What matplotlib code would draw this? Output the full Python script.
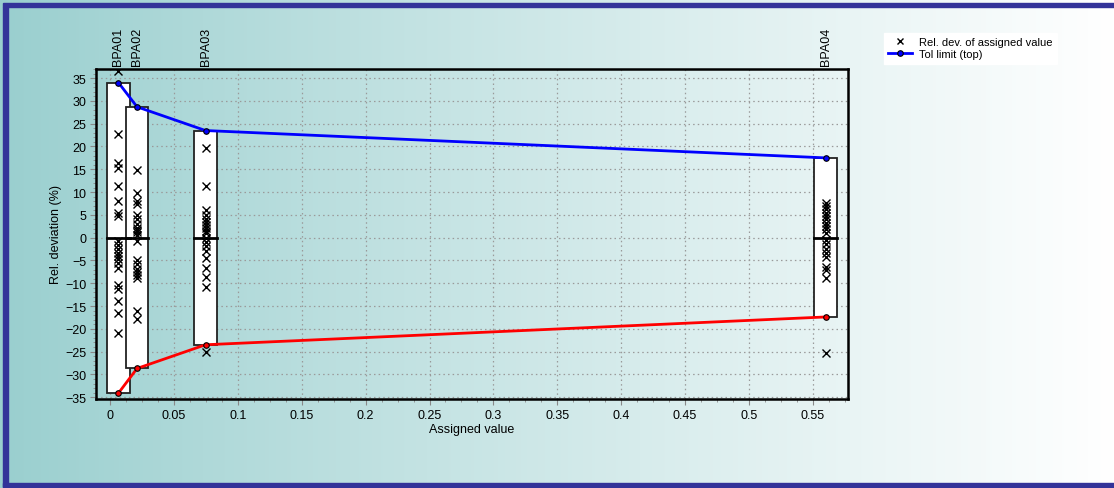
import matplotlib.pyplot as plt
import matplotlib.patches as patches
import numpy as np
from matplotlib.ticker import MultipleLocator

plt.rcParams['font.family'] = ['Liberation Sans', 'DejaVu Sans']

# 样品名称、指定值与容许限
samples = ["BPA01", "BPA02", "BPA03", "BPA04"]
assigned = [0.0066, 0.0211, 0.0747, 0.560]
tol_top = [34.0, 28.7, 23.5, 17.5]
tol_bottom = [-34.1, -28.7, -23.5, -17.4]

# 各实验室相对偏差 (%)
dev_bpa01 = [36.6, 22.8, 16.3, 15.2, 11.3, 8.1, 5.4, 4.8,
             -0.7, -1.6, -2.5, -3.4, -4.1, -4.7, -5.6, -6.7,
             -10.4, -11.3, -13.8, -16.6, -20.9]
dev_bpa02 = [14.9, 9.8, 8.0, 7.4, 5.0, 4.0, 3.0, 2.2, 1.7, 1.2, 0.6,
             -0.8, -4.9, -5.8, -6.9, -7.6, -8.3, -8.8, -16.1, -17.9]
dev_bpa03 = [19.6, 11.3, 6.1, 5.0, 4.1, 3.4, 2.8, 2.1, 1.5, 1.0,
             -0.1, -1.0, -1.9, -3.0, -4.4, -6.7, -8.6, -10.8, -25.1]
dev_bpa04 = [7.6, 7.0, 6.2, 5.5, 4.8, 4.0, 3.3, 2.5, 1.8, 1.0,
             -0.6, -1.5, -2.4, -3.4, -4.2, -6.4, -7.0, -8.9, -25.3]
devs = [dev_bpa01, dev_bpa02, dev_bpa03, dev_bpa04]

W, H = 1114, 489
fig = plt.figure(figsize=(W / 100, H / 100), dpi=100)

# 背景渐变
bg = fig.add_axes([0, 0, 1, 1], zorder=-10)
grad = np.linspace(0, 1, 512) ** 0.9
c0 = np.array([0.60, 0.81, 0.81])
c1 = np.array([1.0, 1.0, 1.0])
img = c0[None, :] * (1 - grad[:, None]) + c1[None, :] * grad[:, None]
bg.imshow(img[None, :, :], aspect='auto', extent=[0, 1, 0, 1])
bg.set_xlim(0, 1)
bg.set_ylim(0, 1)
bg.axis('off')

# 深蓝色边框
border = "#333399"
fig.patches.append(patches.Rectangle((3 / W, 1 - 8 / H), 1, 4 / H, transform=fig.transFigure, color=border, zorder=5))
fig.patches.append(patches.Rectangle((3 / W, 1 / H), 5 / W, 1 - 9 / H, transform=fig.transFigure, color=border, zorder=5))
fig.patches.append(patches.Rectangle((3 / W, 1 / H), 1, 4 / H, transform=fig.transFigure, color=border, zorder=5))

ax = fig.add_axes([96 / W, 1 - 400 / H, 752 / W, 330 / H])
ax.patch.set_alpha(0)

# 容许限方框
box_w = 0.0175
ax.bar(assigned, np.array(tol_top) - np.array(tol_bottom), bottom=tol_bottom, width=box_w,
       color="white", edgecolor="#222222", linewidth=1.3, zorder=2)
for x in assigned:
    ax.plot([x - box_w / 2, x + box_w / 2], [0, 0], color="black", lw=2, zorder=3)

# 相对偏差散点
for x, d in zip(assigned, devs):
    ax.plot([x] * len(d), d, 'x', color="black", ms=6, mew=1, zorder=4)

# 容许限折线
ax.plot(assigned, tol_top, '-o', color="#0000ff", lw=2, ms=4, mfc="#0000ff", mec="black", mew=0.8, zorder=5,
        label="Tol limit (top)")
ax.plot(assigned, tol_bottom, '-o', color="#ff0000", lw=2, ms=4, mfc="#ff0000", mec="black", mew=0.8, zorder=5)

ax.set_xlim(-0.011, 0.5775)
ax.set_ylim(-35.4, 37.0)
ax.xaxis.set_minor_locator(MultipleLocator(0.0125))
ax.yaxis.set_major_locator(MultipleLocator(5))
ax.yaxis.set_minor_locator(MultipleLocator(1))
ax.set_xticks(np.arange(0, 0.551, 0.05))
ax.set_xticklabels(["0", "0.05", "0.1", "0.15", "0.2", "0.25", "0.3", "0.35", "0.4", "0.45", "0.5", "0.55"])
ax.tick_params(which='major', length=4, color="#888888", labelsize=9, pad=3)
ax.tick_params(which='minor', length=2, color="#888888")
ax.grid(True, which='major', linestyle=(0, (1.2, 2.5)), color="#9a9a9a", linewidth=0.9, zorder=0)
ax.set_axisbelow(True)
for s in ax.spines.values():
    s.set_linewidth(1.8)
    s.set_color("black")

ax.set_xlabel("Assigned value", fontsize=9, labelpad=2)
ax.set_ylabel("Rel. deviation (%)", fontsize=9, labelpad=2)

# 顶部样品标签
for x, name in zip(assigned, samples):
    ax.text(x, 1.012, name, transform=ax.get_xaxis_transform(), rotation=90,
            ha="center", va="bottom", fontsize=9)

# 图例
ax.plot([], [], 'x', color="black", ms=5, mew=1, label="Rel. dev. of assigned value")
h, l = ax.get_legend_handles_labels()
leg = fig.legend([h[1], h[0]], [l[1], l[0]], loc="upper left", bbox_to_anchor=(878 / W, 1 - 28 / H),
                 fontsize=8, frameon=True, fancybox=False, edgecolor="white", framealpha=1,
                 handlelength=2.2, handletextpad=0.6, borderpad=0.4, labelspacing=0.2)

fig.savefig("out.png", dpi=100)
